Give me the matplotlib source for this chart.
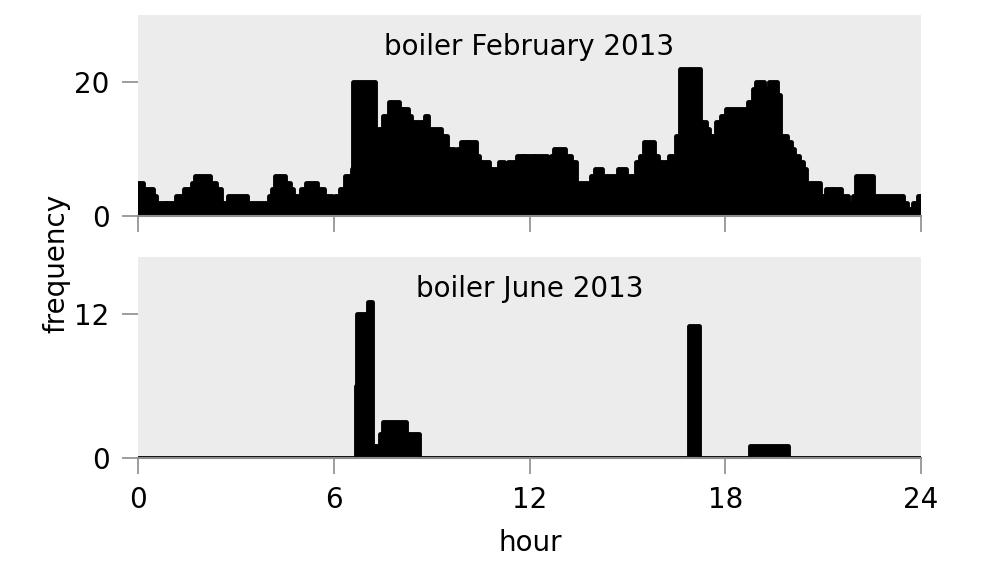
import matplotlib
matplotlib.use('Agg')
import matplotlib.pyplot as plt
from typing import List

# Constant Value
FIG_WIDTH_PX = 985
FIG_HEIGHT_PX = 566
DPI = 100
PANEL_COLOR = '#ECECEC'
AXIS_COLOR = '#8C8C8C'
FONT_SIZE = 20
DAY_END_HOUR = 24

# Data: step start hour and frequency level of that step
FEB_STARTS = [0.00, 0.15, 0.25, 0.45, 0.55, 0.85, 0.90, 1.15, 1.40, 1.65,
              1.75, 2.20, 2.40, 2.55, 2.75, 3.35, 3.40, 3.95, 4.00, 4.10,
              4.20, 4.50, 4.65, 4.75, 5.00, 5.15, 5.50, 5.70, 5.95, 6.05,
              6.20, 6.35, 6.55, 6.60, 7.25, 7.35, 7.52, 7.68, 8.00, 8.10,
              8.15, 8.28, 8.36, 8.80, 8.88, 9.28, 9.48, 9.69, 9.79, 9.89,
              10.08, 10.12, 10.35, 10.45, 10.76, 11.07, 11.22, 11.33, 11.63, 11.79,
              11.84, 12.14, 12.19, 12.55, 12.65, 12.75, 13.10, 13.27, 13.42, 13.88,
              14.00, 14.22, 14.70, 14.96, 15.27, 15.40, 15.50, 15.83, 15.93, 16.20,
              16.28, 16.50, 16.60, 17.24, 17.41, 17.51, 17.71, 17.87, 18.02, 18.69,
              18.84, 18.94, 19.20, 19.35, 19.59, 19.69, 19.90, 20.02, 20.12, 20.27,
              20.37, 20.48, 20.91, 21.09, 21.24, 21.31, 21.55, 21.75, 21.83, 21.91,
              22.01, 22.52, 23.44, 23.56, 23.69, 23.75, 23.90]
FEB_COUNTS = [5, 3, 4, 3, 2, 1, 2, 3, 4, 5,
              6, 5, 4, 2, 3, 1, 2, 1, 3, 4,
              6, 5, 4, 3, 4, 5, 4, 3, 2, 3,
              4, 6, 7, 20, 12, 13, 15, 17, 16, 15,
              16, 15, 14, 15, 13, 12, 10, 9, 10, 11,
              10, 11, 9, 8, 7, 8, 7, 8, 9, 8,
              9, 8, 9, 8, 9, 10, 9, 8, 5, 6,
              7, 6, 7, 6, 8, 9, 11, 9, 8, 7,
              9, 12, 22, 14, 13, 12, 14, 15, 16, 17,
              19, 20, 19, 20, 18, 12, 11, 10, 9, 8,
              7, 5, 3, 4, 3, 4, 3, 2, 1, 3,
              6, 3, 2, 1, 1, 2, 3]

JUN_STARTS = [0.00, 6.68, 6.72, 7.05, 7.18, 7.42, 7.50, 8.22, 8.60,
              16.88, 17.21, 18.76, 19.93]
JUN_COUNTS = [0, 6, 12, 13, 1, 2, 3, 2, 0,
              11, 0, 1, 0]

HOUR_TICKS = [0, 6, 12, 18, 24]
FEB_Y_TICKS = [0, 20]
JUN_Y_TICKS = [0, 12]

FEB_TITLE = 'boiler February 2013'
JUN_TITLE = 'boiler June 2013'
X_LABEL = 'hour'
Y_LABEL = 'frequency'


def px_rect(left: float, top: float, right: float, bottom: float) -> List[float]:
    """convert pixel box of the panel to figure fraction rect"""
    return [left / FIG_WIDTH_PX, 1 - bottom / FIG_HEIGHT_PX,
            (right - left) / FIG_WIDTH_PX, (bottom - top) / FIG_HEIGHT_PX]


def draw_panel(axes, starts: List[float], counts: List[float], title: str,
               y_ticks: List[int], y_max: float, title_y: float):
    assert len(starts) == len(counts)
    edges = starts + [DAY_END_HOUR]
    levels = counts + [counts[-1]]
    axes.set_facecolor(PANEL_COLOR)
    axes.fill_between(edges, levels, step='post', color='black', linewidth=0)
    axes.step(edges, levels, where='post', color='black', linewidth=3.5,
              solid_joinstyle='round', solid_capstyle='round')
    axes.set_xlim(0, DAY_END_HOUR)
    axes.set_ylim(0, y_max)
    axes.set_xticks(HOUR_TICKS)
    axes.set_yticks(y_ticks)
    for side in ['top', 'right', 'left']:
        axes.spines[side].set_visible(False)
    axes.spines['bottom'].set_color(AXIS_COLOR)
    axes.spines['bottom'].set_linewidth(1.5)
    axes.tick_params(axis='both', direction='out', length=11.5, width=1.2,
                     color=AXIS_COLOR, labelsize=FONT_SIZE, pad=9)
    axes.text(0.5, title_y, title, transform=axes.transAxes, ha='center', va='center',
              fontsize=FONT_SIZE)


def main():
    plt.rcParams['font.family'] = ['DejaVu Sans']
    fig = plt.figure(figsize=(FIG_WIDTH_PX / DPI, FIG_HEIGHT_PX / DPI), dpi=DPI)
    ax_feb = fig.add_axes(px_rect(138, 15, 921, 216))
    ax_jun = fig.add_axes(px_rect(138, 257, 921, 458))
    draw_panel(ax_feb, FEB_STARTS, FEB_COUNTS, FEB_TITLE, FEB_Y_TICKS, 30.0, 1 - 32 / 201)
    draw_panel(ax_jun, JUN_STARTS, JUN_COUNTS, JUN_TITLE, JUN_Y_TICKS, 16.8, 1 - 32 / 201)
    ax_feb.tick_params(axis='x', labelbottom=False)
    fig.text(56 / FIG_WIDTH_PX, 1 - 263 / FIG_HEIGHT_PX, Y_LABEL, rotation=90,
             ha='center', va='center', fontsize=FONT_SIZE)
    fig.text(530 / FIG_WIDTH_PX, 1 - 543 / FIG_HEIGHT_PX, X_LABEL,
             ha='center', va='center', fontsize=FONT_SIZE)
    fig.savefig('out.png', dpi=DPI)


main()
